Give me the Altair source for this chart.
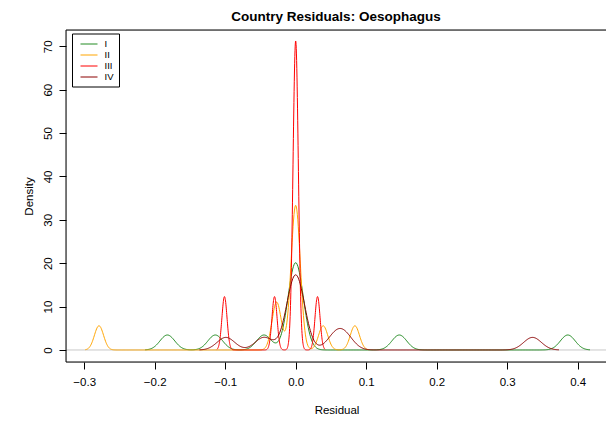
import altair as alt
import pandas as pd

# Country residuals by group, with the Gaussian bandwidth used for each density curve
groups = ["I", "II", "III", "IV"]
line_colors = ["#228B22", "#FFA500", "#FF0000", "#8B0000"]

resid_I = [-0.182, -0.114, -0.045, -0.004, -0.002, 0.0, 0.0, 0.002, 0.004, 0.147, 0.386]
resid_II = [-0.279, -0.028, -0.026, -0.001, 0.0, 0.0, 0.0, 0.0, 0.001, 0.039, 0.084]
resid_III = [-0.101, -0.030, -0.0015, -0.0008, 0.0, 0.0, 0.0008, 0.0015, 0.031]
resid_IV = [-0.099, -0.045, -0.002, -0.001, 0.0, 0.0, 0.001, 0.002, 0.056, 0.070, 0.336]

bandwidths = [0.0105, 0.0065, 0.0036, 0.0125]

x_ticks = [-0.3, -0.2, -0.1, 0.0, 0.1, 0.2, 0.3, 0.4]
y_ticks = [0, 10, 20, 30, 40, 50, 60, 70]

residuals = [resid_I, resid_II, resid_III, resid_IV]
rows = []
for g, vals in zip(groups, residuals):
    for v in vals:
        rows.append({"group": g, "residual": v})
df = pd.DataFrame(rows)

FONT = "Liberation Sans"
W, H = 540, 332

x_scale = alt.Scale(domain=[-0.3258, 0.4402], nice=False, zero=False)
y_scale = alt.Scale(domain=[-2.77, 73.75], nice=False, zero=False)

x_axis = alt.Axis(
    values=x_ticks, format=".1f", title="Residual", grid=False, domain=False,
    tickSize=7, tickColor="black", labelPadding=7, labelFontSize=11.5,
    labelColor="black", labelFont=FONT, titleFont=FONT, titleFontSize=11.5,
    titleFontWeight="normal", titleColor="black", titleX=270.5, titleY=51.5,
    titleAlign="center", titleBaseline="alphabetic",
)
y_axis = alt.Axis(
    values=y_ticks, title="Density", grid=False, domain=False,
    tickSize=7, tickColor="black", labelPadding=8, labelFontSize=11.5,
    labelColor="black", labelFont=FONT, labelAngle=270, labelAlign="center",
    labelBaseline="alphabetic", titleFont=FONT, titleFontSize=11.5,
    titleFontWeight="normal", titleColor="black", titleAngle=270,
    titleX=-33.5, titleY=166, titleAlign="center", titleBaseline="alphabetic",
)

color_enc = alt.Color(
    "group:N",
    scale=alt.Scale(domain=groups, range=line_colors),
    legend=alt.Legend(
        title=None, orient="none", legendX=6, legendY=3.5,
        symbolType="M-1.7,0H1.7", symbolSize=100, symbolStrokeWidth=1,
        symbolOffset=6.5, labelOffset=10, rowPadding=1, padding=5,
        strokeColor="black", labelFont=FONT, labelFontSize=9.5,
        labelColor="black",
    ),
)

one = pd.DataFrame({"k": [0]})

# Zero reference line across the whole plot
zero_line = alt.Chart(one).mark_rule(color="#C8C8C8", strokeWidth=1).encode(
    y=alt.datum(0, scale=y_scale, axis=y_axis)
)

layers = [zero_line]
for g, vals, bw in zip(groups, residuals, bandwidths):
    lo = min(vals) - 3 * bw
    hi = max(vals) + 3 * bw
    layer = (
        alt.Chart(df)
        .transform_filter(alt.datum.group == g)
        .transform_density(
            "residual", as_=["residual", "density"], groupby=["group"],
            bandwidth=bw, extent=[lo, hi], steps=600,
        )
        .mark_line(strokeWidth=1)
        .encode(
            x=alt.X("residual:Q", scale=x_scale, axis=x_axis),
            y=alt.Y("density:Q", scale=y_scale, axis=y_axis),
            color=color_enc,
        )
    )
    layers.append(layer)

# Plot frame: top, left and bottom edges
frame_top = alt.Chart(one).mark_rule(color="black", strokeWidth=1).encode(
    x=alt.value(0), x2=alt.value(W), y=alt.value(0)
)
frame_left = alt.Chart(one).mark_rule(color="black", strokeWidth=1).encode(
    x=alt.value(0), y=alt.value(0), y2=alt.value(H)
)
frame_bottom = alt.Chart(one).mark_rule(color="black", strokeWidth=1).encode(
    x=alt.value(0), x2=alt.value(W), y=alt.value(H)
)
layers += [frame_top, frame_left, frame_bottom]

chart = (
    alt.layer(*layers)
    .properties(
        width=W, height=H,
        title=alt.TitleParams(
            "Country Residuals: Oesophagus", font=FONT, fontSize=13.5,
            fontWeight="bold", color="black", anchor="middle", offset=10,
            baseline="alphabetic", dy=15,
        ),
        padding={"left": 66, "top": 30, "right": 0, "bottom": 59},
        autosize=alt.AutoSizeParams(type="none"),
    )
    .configure_view(stroke="transparent")
    .configure(background="white")
)

chart.save("out.html", embed_options={"renderer": "svg", "actions": False})
